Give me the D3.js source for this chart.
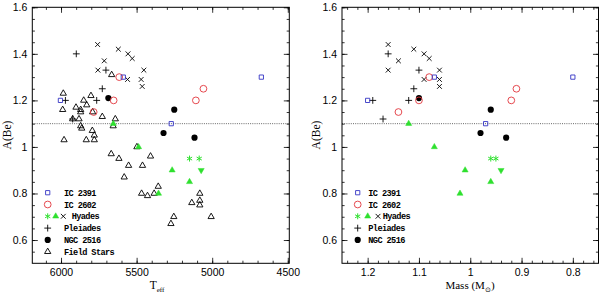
<!DOCTYPE html>
<html>
<head>
<meta charset="utf-8">
<script src="https://cdn.jsdelivr.net/npm/d3@7"></script>
<style>
body { margin: 0; background: #fff; }
svg text { font-family: "Liberation Serif", serif; fill: #000; }
.tick text { font-family: "Liberation Sans", sans-serif; font-size: 10.5px; }
.legend text { font-family: "Liberation Mono", monospace; font-weight: bold; font-size: 8.6px; letter-spacing: -0.6px; }
</style>
</head>
<body>
<svg id="fig" width="600" height="294"></svg>
<script>
// IC 2391 (blue squares)
var ic2391Teff = [6004, 5588, 5271, 4675];
var ic2391Mass = [1.20, 1.07, 0.97, 0.80];
var ic2391Abe = [1.20, 1.30, 1.10, 1.30];

// IC 2602 (red open circles)
var ic2602Teff = [5615, 5652, 5784, 5108, 5058];
var ic2602Mass = [1.08, 1.10, 1.14, 0.92, 0.91];
var ic2602Abe = [1.30, 1.20, 1.15, 1.20, 1.25];

// NGC 2516 (filled circles)
var ngc2516Teff = [5687, 5251, 5322, 5117];
var ngc2516Mass = [1.10, 0.96, 0.98, 0.93];
var ngc2516Abe = [1.21, 1.16, 1.06, 1.04];

// Pleiades (plus)
var pleiadesTeff = [5899, 5703, 5727, 5764, 5971, 5923];
var pleiadesMass = [1.16, 1.10, 1.11, 1.12, 1.19, 1.17];
var pleiadesAbe = [1.40, 1.33, 1.25, 1.20, 1.20, 1.12];

// Hyades, black crosses
var hyadesXTeff = [5758, 5621, 5714, 5557, 5529, 5756, 5452, 5560, 5470, 5463];
var hyadesXMass = [1.16, 1.11, 1.14, 1.09, 1.08, 1.16, 1.06, 1.09, 1.06, 1.06];
var hyadesXAbe = [1.44, 1.42, 1.37, 1.40, 1.38, 1.33, 1.33, 1.29, 1.29, 1.26];

// Hyades, green triangles / down triangle / asterisks
var hyadesTriTeff = [5654, 5487, 5265, 5150, 5355];
var hyadesTriMass = [1.12, 1.07, 1.01, 0.96, 1.02];
var hyadesTriAbe = [1.10, 1.00, 0.90, 0.85, 0.80];
var hyadesDownTeff = [5073];
var hyadesDownMass = [0.94];
var hyadesDownAbe = [0.90];
var hyadesStarTeff = [5150, 5086];
var hyadesStarMass = [0.96, 0.95];
var hyadesStarAbe = [0.95, 0.95];

// Field stars (open triangles, Teff panel only)
var fieldTeff = [5985, 5850, 5802, 5665, 5989, 5901, 5870, 5870, 5830, 5791, 5727, 5923, 5881,
  5870, 5863, 5641, 5655, 5793, 5780, 5980, 5833, 5780, 5498, 5668, 5617, 5553, 5461, 5408,
  5582, 5357, 5467, 5428, 5384, 5135, 5082, 5082, 5082, 5254, 5007, 5273];
var fieldAbe = [1.23, 1.20, 1.22, 1.31, 1.16, 1.17, 1.16, 1.15, 1.18, 1.15, 1.13, 1.12, 1.12,
  1.09, 1.08, 1.12, 1.09, 1.07, 1.05, 1.03, 1.03, 1.03, 1.00, 0.97, 0.95, 0.92, 0.92, 0.96,
  0.87, 0.83, 0.80, 0.79, 0.80, 0.76, 0.80, 0.77, 0.75, 0.70, 0.70, 0.67];

var abeLimit = 1.1;

var yTicks = [0.6, 0.8, 1, 1.2, 1.4, 1.6];
var yTickLabels = ["0.6", "0.8", "1", "1.2", "1.4", "1.6"];
var teffTicks = [6000, 5500, 5000, 4500];
var teffTickLabels = ["6000", "5500", "5000", "4500"];
var massTicks = [1.2, 1.1, 1.0, 0.9, 0.8];
var massTickLabels = ["1.2", "1.1", "1", "0.9", "0.8"];

var blue = "#3434c4", red = "#e2363c", green = "#2ee02e";

var svg = d3.select("#fig");
var top0 = 7.3, bottom0 = 263.3;

var y = d3.scaleLinear().domain([0.5, 1.6]).range([bottom0, top0]);
var xTeff = d3.scaleLinear().domain([6190, 4490]).range([32.3, 289.3]);
var xMass = d3.scaleLinear().domain([1.25, 0.75]).range([342, 598.5]);

function zip(xs, ys) { return xs.map(function(d, i) { return [d, ys[i]]; }); }

// small marker paths
function plusPath(r) { return "M" + (-r) + ",0H" + r + "M0," + (-r) + "V" + r; }
function timesPath(r) { return "M" + (-r) + "," + (-r) + "L" + r + "," + r + "M" + (-r) + "," + r + "L" + r + "," + (-r); }
function starPath(r) {
  var p = "";
  [90, 30, -30].forEach(function(a) {
    var c = Math.cos(a * Math.PI / 180) * r, s = Math.sin(a * Math.PI / 180) * r;
    p += "M" + (-c) + "," + (-s) + "L" + c + "," + s;
  });
  return p;
}
var squarePath = d3.symbol().type(d3.symbolSquare).size(18)();
var ringPath = d3.symbol().type(d3.symbolCircle).size(36)();
var dotPath = d3.symbol().type(d3.symbolCircle).size(30)();
var triPath = d3.symbol().type(d3.symbolTriangle).size(17)();
var gTriPath = d3.symbol().type(d3.symbolTriangle).size(16)();

var markers = {
  square: { d: squarePath, fill: "none", stroke: blue, sw: 0.9 },
  ring: { d: ringPath, fill: "none", stroke: red, sw: 0.9 },
  dot: { d: dotPath, fill: "#000", stroke: "none", sw: 0 },
  plus: { d: plusPath(3.4), fill: "none", stroke: "#000", sw: 0.9 },
  times: { d: timesPath(2.4), fill: "none", stroke: "#000", sw: 0.9 },
  tri: { d: triPath, fill: "none", stroke: "#000", sw: 0.9 },
  gtri: { d: gTriPath, fill: green, stroke: green, sw: 0.5 },
  gdown: { d: gTriPath, fill: green, stroke: green, sw: 0.5, rot: 180 },
  gstar: { d: starPath(3), fill: "none", stroke: green, sw: 1 }
};

function drawMarks(g, pts, x, kind) {
  var m = markers[kind];
  g.append("g").selectAll("path")
    .data(pts)
    .enter().append("path")
    .attr("d", m.d)
    .attr("transform", function(d) { return "translate(" + x(d[0]) + "," + y(d[1]) + ")" + (m.rot ? " rotate(" + m.rot + ")" : ""); })
    .attr("fill", m.fill)
    .attr("stroke", m.stroke)
    .attr("stroke-width", m.sw);
}

function drawFrame(x, ticks, labels, minorStep, leftPad) {
  var g = svg.append("g");
  var x0 = x.range()[0], x1 = x.range()[1];
  var dom = x.domain();
  var lo = Math.min(dom[0], dom[1]), hi = Math.max(dom[0], dom[1]);
  var minor = d3.range(Math.ceil(lo / minorStep - 1e-6), Math.floor(hi / minorStep + 1e-6) + 1).map(function(k) { return k * minorStep; });
  var yMinor = d3.range(11, 33).map(function(k) { return k * 0.05; });

  var fmtX = function(d) { return labels[ticks.indexOf(d)]; };
  var fmtY = function(d) { return yTickLabels[yTicks.indexOf(d)]; };

  g.append("g").attr("transform", "translate(0," + bottom0 + ")")
    .call(d3.axisBottom(x).tickValues(minor).tickSize(-2.6).tickFormat(""));
  g.append("g").attr("transform", "translate(0," + bottom0 + ")")
    .call(d3.axisBottom(x).tickValues(ticks).tickSize(-5.5).tickPadding(5).tickFormat(fmtX));
  g.append("g").attr("transform", "translate(0," + top0 + ")")
    .call(d3.axisTop(x).tickValues(minor).tickSize(-2.6).tickFormat(""));
  g.append("g").attr("transform", "translate(0," + top0 + ")")
    .call(d3.axisTop(x).tickValues(ticks).tickSize(-5.5).tickFormat(""));

  g.append("g").attr("transform", "translate(" + x0 + ",0)")
    .call(d3.axisLeft(y).tickValues(yMinor).tickSize(-2.6).tickFormat(""));
  g.append("g").attr("transform", "translate(" + x0 + ",0)")
    .call(d3.axisLeft(y).tickValues(yTicks).tickSize(-5.5).tickPadding(leftPad).tickFormat(fmtY));
  g.append("g").attr("transform", "translate(" + x1 + ",0)")
    .call(d3.axisRight(y).tickValues(yMinor).tickSize(-2.6).tickFormat(""));
  g.append("g").attr("transform", "translate(" + x1 + ",0)")
    .call(d3.axisRight(y).tickValues(yTicks).tickSize(-5.5).tickFormat(""));

  g.selectAll(".domain").remove();
  g.selectAll(".tick line").attr("stroke", "#000").attr("stroke-width", 0.8);
  g.selectAll(".tick text").attr("fill", "#000");

  g.append("rect")
    .attr("x", x0).attr("y", top0)
    .attr("width", x1 - x0).attr("height", bottom0 - top0)
    .attr("fill", "none").attr("stroke", "#000").attr("stroke-width", 1);

  g.append("line")
    .attr("x1", x0).attr("x2", x1)
    .attr("y1", y(abeLimit)).attr("y2", y(abeLimit))
    .attr("stroke", "#000").attr("stroke-width", 0.6)
    .attr("stroke-dasharray", "1,1.2");
  return g;
}

function legendRow(g, lx, ly, kinds, offsets, text, color) {
  kinds.forEach(function(k, i) {
    var m = markers[k];
    g.append("path")
      .attr("d", m.d)
      .attr("transform", "translate(" + (lx + offsets[i]) + "," + ly + ")")
      .attr("fill", m.fill).attr("stroke", m.stroke).attr("stroke-width", m.sw);
  });
  g.append("text")
    .attr("x", lx + offsets[offsets.length - 1])
    .attr("y", ly + 3)
    .attr("fill", color)
    .text(text);
}

// ---- left panel: Teff ----
var left = drawFrame(xTeff, teffTicks, teffTickLabels, 100, 5);
drawMarks(left, zip(fieldTeff, fieldAbe), xTeff, "tri");
drawMarks(left, zip(hyadesTriTeff, hyadesTriAbe), xTeff, "gtri");
drawMarks(left, zip(hyadesDownTeff, hyadesDownAbe), xTeff, "gdown");
drawMarks(left, zip(hyadesStarTeff, hyadesStarAbe), xTeff, "gstar");
drawMarks(left, zip(hyadesXTeff, hyadesXAbe), xTeff, "times");
drawMarks(left, zip(pleiadesTeff, pleiadesAbe), xTeff, "plus");
drawMarks(left, zip(ngc2516Teff, ngc2516Abe), xTeff, "dot");
drawMarks(left, zip(ic2602Teff, ic2602Abe), xTeff, "ring");
drawMarks(left, zip(ic2391Teff, ic2391Abe), xTeff, "square");

// ---- right panel: Mass ----
var right = drawFrame(xMass, massTicks, massTickLabels, 0.02, 5);
drawMarks(right, zip(hyadesTriMass, hyadesTriAbe), xMass, "gtri");
drawMarks(right, zip(hyadesDownMass, hyadesDownAbe), xMass, "gdown");
drawMarks(right, zip(hyadesStarMass, hyadesStarAbe), xMass, "gstar");
drawMarks(right, zip(hyadesXMass, hyadesXAbe), xMass, "times");
drawMarks(right, zip(pleiadesMass, pleiadesAbe), xMass, "plus");
drawMarks(right, zip(ngc2516Mass, ngc2516Abe), xMass, "dot");
drawMarks(right, zip(ic2602Mass, ic2602Abe), xMass, "ring");
drawMarks(right, zip(ic2391Mass, ic2391Abe), xMass, "square");

// legends
var legL = svg.append("g").attr("class", "legend");
var ly0 = 192.7, lstep = 11.8;
legendRow(legL, 47.7, ly0, ["square"], [0, 16.3], "IC 2391", blue);
legendRow(legL, 47.7, ly0 + lstep, ["ring"], [0, 16.3], "IC 2602", red);
legendRow(legL, 47.7, ly0 + 2 * lstep, ["gstar", "gtri", "times"], [0, 8, 15.6, 24], "Hyades", green);
legendRow(legL, 47.7, ly0 + 3 * lstep, ["plus"], [0, 16.3], "Pleiades", "#000");
legendRow(legL, 47.7, ly0 + 4 * lstep, ["dot"], [0, 16.3], "NGC 2516", "#000");
legendRow(legL, 47.7, ly0 + 5 * lstep, ["tri"], [0, 16.3], "Field Stars", "#000");

var legR = svg.append("g").attr("class", "legend");
legendRow(legR, 357.7, ly0, ["square"], [0, 10.6], "IC 2391", blue);
legendRow(legR, 357.7, ly0 + lstep, ["ring"], [0, 10.6], "IC 2602", red);
legendRow(legR, 357.7, ly0 + 2 * lstep, ["gstar", "gtri", "times"], [0, 10, 20.3, 25], "Hyades", green);
legendRow(legR, 357.7, ly0 + 3 * lstep, ["plus"], [0, 10.6], "Pleiades", "#000");
legendRow(legR, 357.7, ly0 + 4 * lstep, ["dot"], [0, 10.6], "NGC 2516", "#000");

// axis titles
var teffTitle = svg.append("text")
  .attr("x", 157).attr("y", 289)
  .attr("text-anchor", "middle")
  .style("font-size", "11.5px");
teffTitle.append("tspan").text("T");
teffTitle.append("tspan").attr("dy", 2.5).style("font-size", "7px").text("eff");

var massTitle = svg.append("text")
  .attr("x", 470).attr("y", 289)
  .attr("text-anchor", "middle")
  .style("font-size", "11px");
massTitle.append("tspan").text("Mass (M");
massTitle.append("tspan").attr("dy", 2.5).style("font-size", "7px").text("\u2299");
massTitle.append("tspan").attr("dy", -2.5).text(")");

[[7, 135], [316, 135]].forEach(function(p) {
  svg.append("text")
    .attr("transform", "translate(" + p[0] + "," + p[1] + ") rotate(-90)")
    .attr("text-anchor", "middle")
    .attr("dy", "0.35em")
    .style("font-size", "11.5px")
    .text("A(Be)");
});
</script>
</body>
</html>
